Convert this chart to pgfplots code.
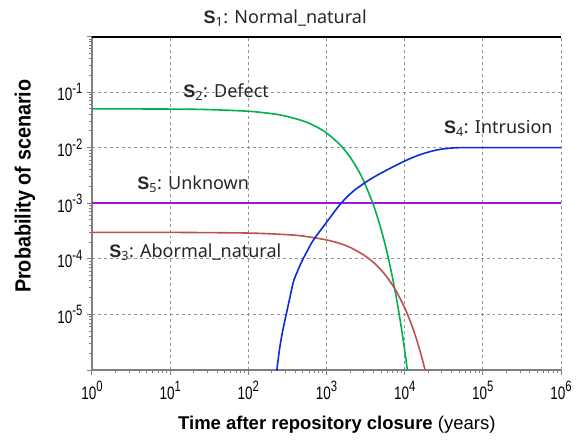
\documentclass[border=0pt]{standalone}
\usepackage{fontspec}
\setmainfont{Liberation Sans}
\newfontfamily\tickfont[FakeStretch=0.75]{Liberation Sans}
\newfontfamily\labfont[FakeStretch=0.9]{Liberation Sans}
\newfontfamily\annfont{Noto Sans}
\newfontfamily\annbold{Liberation Sans Bold}
\usepackage{pgfplots}
\pgfplotsset{compat=1.18}

\definecolor{sgreen}{RGB}{0,176,80}
\definecolor{sred}{RGB}{192,80,77}
\definecolor{sblue}{RGB}{10,45,215}
\definecolor{spurple}{RGB}{160,20,220}
\definecolor{axgray}{RGB}{128,128,128}

\newcommand{\scen}[1]{{\annbold S}\textsubscript{#1}}
\newcommand{\tp}[1]{10\raisebox{0.4em}{\fontsize{15bp}{15bp}\selectfont #1}}

\begin{document}
\begin{tikzpicture}
\begin{axis}[
    scale only axis,
    width=469bp, height=333.5bp,
    xmode=log, ymode=log,
    xmin=1, xmax=1e6,
    ymin=1e-6, ymax=1,
    axis lines*=left,
    axis line style={axgray, line width=1.4bp},
    tick align=outside,
    major tick length=5bp,
    tick style={axgray, line width=1bp},
    minor tick num=0,
    xtick={1,10,100,1000,10000,100000,1000000},
    xticklabels={\tp{0},\tp{1},\tp{2},\tp{3},\tp{4},\tp{5},\tp{6}},
    ytick={1e-6,1e-5,1e-4,1e-3,1e-2,1e-1,1},
    yticklabels={,\tp{-5},\tp{-4},\tp{-3},\tp{-2},\tp{-1},},
    ticklabel style={font=\tickfont\fontsize{18bp}{20bp}\selectfont, black},
    xticklabel style={yshift=-3bp},
    yticklabel style={xshift=-1bp},
    grid=major,
    major grid style={axgray!85, dashed, line width=0.7bp},
    xlabel={\textbf{Time after repository closure} (years)},
    xlabel style={font=\fontsize{18.5bp}{20bp}\selectfont, at={(axis description cs:0.522,-0.165)}, anchor=center},
    ylabel={\textbf{Probability of scenario}},
    ylabel style={font=\labfont\fontsize{22bp}{24bp}\selectfont, at={(axis description cs:-0.143,0.551)}, anchor=center},
    clip mode=individual,
    every axis plot/.append style={line width=1.6bp},
]
% S1 normal natural
\addplot[black, line width=1.8bp] coordinates {(1,0.99) (1e6,0.99)};
% S5 unknown
\addplot[spurple] coordinates {(1,1e-3) (1e6,1e-3)};
% S2 defect
\addplot[sgreen, smooth] coordinates {
(1,0.05) (10,0.0495) (30,0.0485) (100,0.0452) (200,0.0409) (300,0.0370)
(500,0.0303) (700,0.0248) (1000,0.0184) (1500,0.0112) (2000,0.00677)
(2500,0.0041) (3000,0.00249) (4000,0.000916) (5000,0.000337) (6000,0.000124)
(7000,4.56e-5) (8000,1.68e-5) (9000,6.17e-6) (10000,2.27e-6) (11000,8.35e-7)
};
% S3 abnormal natural
\addplot[sred, smooth] coordinates {
(1,3.0e-4) (10,2.99e-4) (100,2.91e-4) (300,2.73e-4) (500,2.57e-4) (1000,2.19e-4)
(1500,1.88e-4) (2000,1.61e-4) (3000,1.17e-4) (4000,8.6e-5) (5000,6.29e-5)
(6000,4.6e-5) (7000,3.36e-5) (8000,2.46e-5) (10000,1.32e-5) (12000,7.05e-6)
(14000,3.78e-6) (16000,2.02e-6) (18000,1.08e-6) (20000,5.8e-7)
};
% S4 intrusion
\addplot[sblue, smooth] coordinates {
(226,5e-7) (232,1e-6) (250,2.3e-6) (269,4.3e-6) (290,7.2e-6) (305,1e-5)
(340,2e-5) (378,3.9e-5) (430,6.2e-5) (485,9.1e-5) (570,1.4e-4) (682,2.2e-4)
(960,4.2e-4) (1500,9.6e-4) (2214,1.66e-3) (3630,2.7e-3) (5900,3.95e-3)
(10140,5.8e-3) (15800,7.5e-3) (25800,9.1e-3) (41900,9.9e-3) (70000,1e-2) (1e6,1e-2)
};
\begin{scope}[every node/.style={font=\annfont\fontsize{18bp}{20bp}\selectfont, text=black!85}]
\node at (axis cs:296,2.15) {\scen{1}: Normal\_natural};
\node at (axis cs:52,0.1) {\scen{2}: Defect};
\node at (axis cs:21,1.33e-4) {\scen{3}: Abormal\_natural};
\node at (axis cs:1.58e5,0.0221) {\scen{4}: Intrusion};
\node at (axis cs:19.7,2.24e-3) {\scen{5}: Unknown};
\end{scope}
\end{axis}
\path (current axis.south west) ++(-92bp,-75bp) coordinate (bbA);
\path (current axis.north east) ++(26bp,36.5bp) coordinate (bbB);
\path (bbA) rectangle (bbB);
\end{tikzpicture}
\end{document}
